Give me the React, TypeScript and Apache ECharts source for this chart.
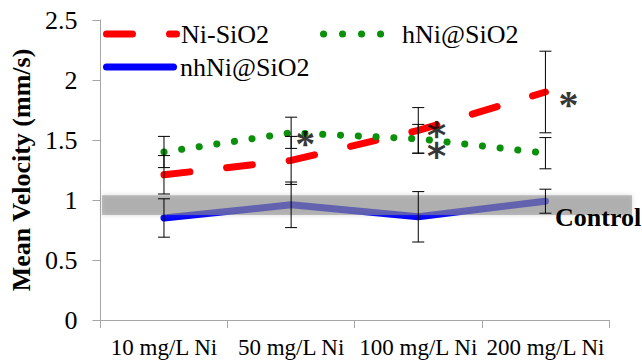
import React, { useEffect, useRef } from "react";
import * as echarts from "echarts";

const categories = ["10 mg/L Ni", "50 mg/L Ni", "100 mg/L Ni", "200 mg/L Ni"];
const seriesNames = ["Ni-SiO2", "hNi@SiO2", "nhNi@SiO2"];
const niSiO2 = [1.21, 1.33, 1.58, 1.9];
const niSiO2Err = [0.16, 0.2, 0.19, 0.34];
const hNiSiO2 = [1.4, 1.56, 1.51, 1.39];
const hNiSiO2Err = [0.13, 0.13, 0.12, 0.13];
const nhNiSiO2 = [0.85, 0.96, 0.86, 0.99];
const nhNiSiO2Err = [0.16, 0.19, 0.21, 0.1];
const controlBand = [0.875, 1.04];
const controlLabel = "Control";
const yMin = 0;
const yMax = 2.5;
const yInterval = 0.5;
const yTitle = "Mean Velocity (mm/s)";
// significance markers: [category index, value, text]
const sigMarks: [number, number, string][] = [
  [1, 1.52, "*"],
  [2, 1.48, "\u2051"],
  [3, 1.85, "*"],
];

// styling (pixel offsets for the asterisk labels)
const sigOffsets = [14, 19, 23];
const FONT = "Liberation Serif";
const RED = "#ff0000";
const GREEN = "#0a900a";
const BLUE = "#0000ff";

function errorSeries(values: number[], errs: number[]) {
  return {
    type: "custom",
    z: 10,
    silent: true,
    renderItem: (params: any, api: any) => {
      const i = api.value(0);
      const lo = api.coord([i, api.value(1)]);
      const hi = api.coord([i, api.value(2)]);
      const w = 6;
      const style = { stroke: "#000", lineWidth: 1 };
      return {
        type: "group",
        children: [
          { type: "line", shape: { x1: hi[0], y1: hi[1], x2: lo[0], y2: lo[1] }, style },
          { type: "line", shape: { x1: hi[0] - w, y1: hi[1], x2: hi[0] + w, y2: hi[1] }, style },
          { type: "line", shape: { x1: lo[0] - w, y1: lo[1], x2: lo[0] + w, y2: lo[1] }, style },
        ],
      };
    },
    encode: { x: 0, y: [1, 2] },
    data: values.map((v, i) => [i, v - errs[i], v + errs[i]]),
  };
}

export default function App() {
  const ref = useRef<HTMLDivElement>(null);
  useEffect(() => {
    if (!ref.current) return;
    const chart = echarts.init(ref.current, null, { renderer: "svg" });
    const gridLeft = 100;
    const gridRight = 33;
    const gridTop = 20;
    const gridBottom = 40;
    chart.setOption({
      animation: false,
      textStyle: { fontFamily: FONT },
      grid: { left: gridLeft, right: gridRight, top: gridTop, bottom: gridBottom },
      xAxis: {
        type: "category",
        data: categories,
        boundaryGap: true,
        axisLine: { lineStyle: { color: "#a6a6a6", width: 1 } },
        axisTick: { show: true, length: 8, lineStyle: { color: "#a6a6a6" } },
        axisLabel: { interval: 0, fontSize: 23, color: "#000", margin: 16, fontFamily: FONT },
        splitLine: { show: false },
      },
      yAxis: {
        type: "value",
        min: yMin,
        max: yMax,
        interval: yInterval,
        name: yTitle,
        nameLocation: "middle",
        nameGap: 66,
        nameRotate: 90,
        nameTextStyle: { fontSize: 26, fontWeight: "bold", color: "#000", fontFamily: FONT },
        axisLine: { show: true, lineStyle: { color: "#a6a6a6", width: 1 } },
        axisTick: { show: true, length: 8, lineStyle: { color: "#a6a6a6" } },
        axisLabel: { fontSize: 26, color: "#000", margin: 23, fontFamily: FONT },
        splitLine: { show: false },
      },
      series: [
        {
          name: seriesNames[0],
          type: "line",
          data: niSiO2,
          symbol: "none",
          z: 3,
          lineStyle: { color: RED, width: 7, type: [26, 37], cap: "round" },
        },
        {
          name: seriesNames[1],
          type: "line",
          data: hNiSiO2,
          symbol: "none",
          z: 3,
          lineStyle: { color: GREEN, width: 7, type: [0.1, 17.7], cap: "round" },
        },
        {
          name: seriesNames[2],
          type: "line",
          data: nhNiSiO2,
          symbol: "none",
          z: 3,
          lineStyle: { color: BLUE, width: 7, cap: "round", join: "round" },
        },
        errorSeries(niSiO2, niSiO2Err),
        errorSeries(hNiSiO2, hNiSiO2Err),
        errorSeries(nhNiSiO2, nhNiSiO2Err),
        {
          type: "scatter",
          z: 12,
          silent: true,
          symbolSize: 1,
          itemStyle: { color: "transparent" },
          data: sigMarks.map((m, i) => ({
            value: [m[0], m[1]],
            label: {
              show: true,
              position: "inside",
              formatter: m[2],
              offset: m[2] === "*" ? [sigOffsets[i], 6] : [sigOffsets[i], 0],
              fontSize: m[2] === "*" ? 40 : 46,
              lineHeight: 16,
              fontWeight: "bold",
              color: "#000",
              fontFamily: m[2] === "*" ? FONT : "DejaVu Sans",
            },
          })),
        },
      ],
    });

    const yTop = chart.convertToPixel({ yAxisIndex: 0 }, controlBand[1]) as number;
    const yBot = chart.convertToPixel({ yAxisIndex: 0 }, controlBand[0]) as number;
    const W = chart.getWidth();
    const plotRight = W - gridRight;
    const txt = (text: string, x: number, y: number, bold = false) => ({
      type: "text",
      z: 20,
      x,
      y,
      style: {
        text,
        fontSize: 26,
        fontWeight: bold ? "bold" : "normal",
        fontFamily: FONT,
        fill: "#000",
        verticalAlign: "middle",
      },
    });
    chart.setOption({
      graphic: [
        {
          type: "rect",
          z: 5,
          silent: true,
          shape: { x: gridLeft + 2, y: yTop, width: W - 10 - gridLeft - 2, height: yBot - yTop },
          style: {
            fill: "rgba(140,140,140,0.55)",
            shadowBlur: 5,
            shadowColor: "rgba(140,140,140,0.6)",
          },
        },
        txt(controlLabel, plotRight - 54, yBot + 2, true),
        // legend
        {
          type: "line",
          z: 20,
          shape: { x1: 106.5, y1: 34, x2: 176.5, y2: 34 },
          style: { stroke: RED, lineWidth: 7, lineDash: [26, 37], lineCap: "round" },
        },
        txt(seriesNames[0], 181, 34),
        {
          type: "line",
          z: 20,
          shape: { x1: 323.5, y1: 34, x2: 381, y2: 34 },
          style: { stroke: GREEN, lineWidth: 7, lineDash: [0.1, 18.9], lineCap: "round" },
        },
        txt(seriesNames[1], 402, 34),
        {
          type: "line",
          z: 20,
          shape: { x1: 106.5, y1: 67, x2: 173.5, y2: 67 },
          style: { stroke: BLUE, lineWidth: 7, lineCap: "round" },
        },
        txt(seriesNames[2], 180, 67),
      ],
    });
    return () => chart.dispose();
  }, []);
  return <div ref={ref} style={{ width: 642, height: 360, position: "absolute", left: 0, top: 0 }} />;
}
